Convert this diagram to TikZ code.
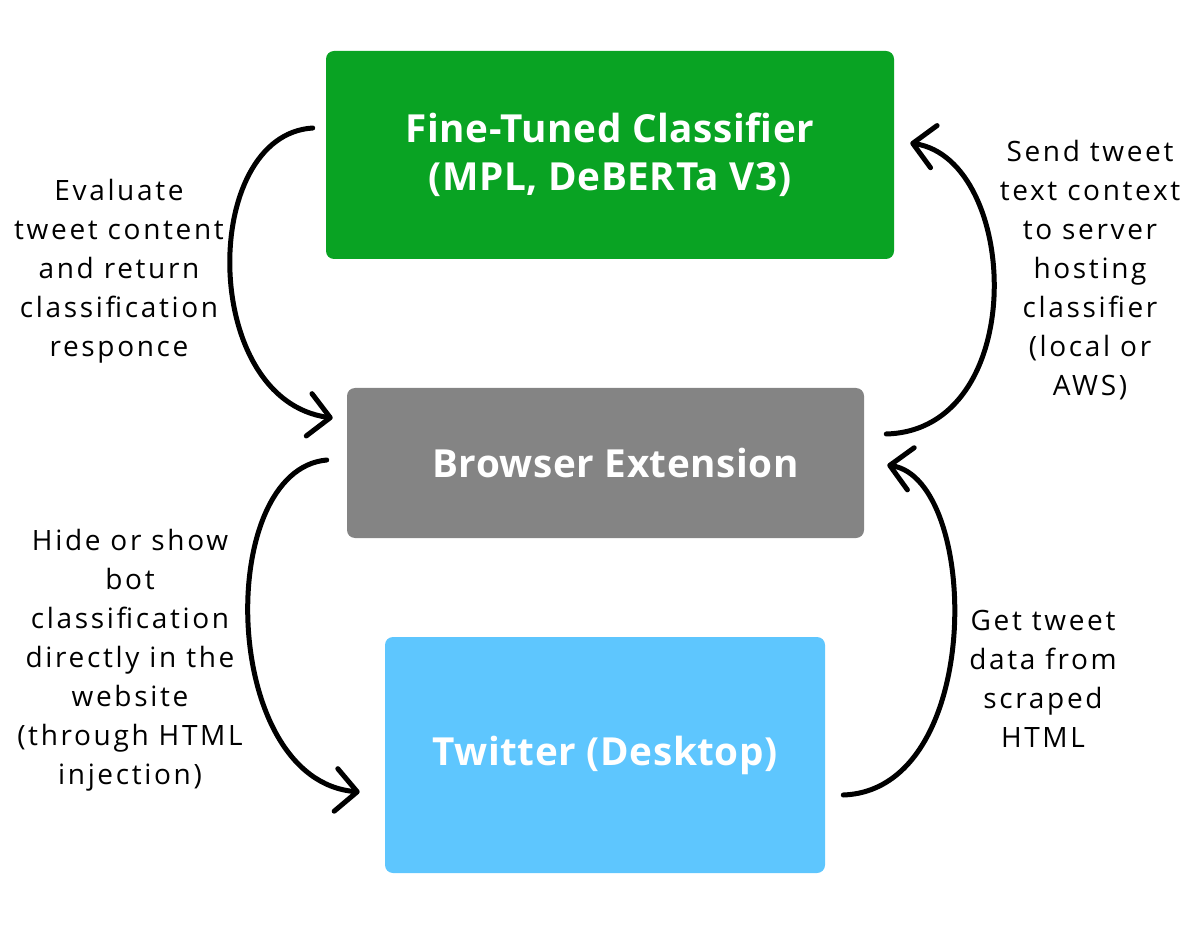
\documentclass[tikz,border=0pt]{standalone}
\usepackage{fontspec}
\setmainfont{Open Sans}
\newfontfamily\notefont{Open Sans}[LetterSpace=9.5]
\newfontfamily\blockfont{Open Sans}[LetterSpace=1.5]
\usetikzlibrary{arrows.meta,calc}
\definecolor{tunedgreen}{RGB}{9,163,35}
\definecolor{extgray}{RGB}{132,132,132}
\definecolor{twitblue}{RGB}{94,198,254}

\begin{document}
\begin{tikzpicture}[x=0.75pt,y=0.75pt,yscale=-1,xscale=1,
    block/.style={rounded corners=6pt, text=white, font=\blockfont\bfseries\fontsize{29}{36}\selectfont, align=center, inner sep=0pt},
    note/.style={align=center, font=\notefont\fontsize{21}{29.25}\selectfont, inner sep=0pt},
    flow/.style={line width=3.75pt, line cap=round, -{Straight Barb[round,length=16pt,width=32pt]}}]
\useasboundingbox (0,0) rectangle (1200,927);
% boxes
\node[block, fill=tunedgreen, minimum width=426pt, minimum height=156pt] (cls) at (610,155) {Fine-Tuned Classifier\\(MPL, DeBERTa V3)};
\node[block, fill=extgray, minimum width=387.75pt, minimum height=112.5pt] (ext) at (605.5,463) {\hspace*{15pt}Browser Extension};
\node[block, fill=twitblue, minimum width=330pt, minimum height=177pt] (twt) at (605,755) {Twitter (Desktop)};
% curved connectors
\draw[flow] ($(cls.west)+(-13,-27)$) .. controls +(-113,7) and +(-133,-18) .. ($(ext.west)+(-14,-45)$);
\draw[flow] ($(ext.east)+(22,-29)$) .. controls +(144,-4) and +(110,17) .. ($(cls.east)+(16,-12)$);
\draw[flow] ($(ext.west)+(-20,-3)$) .. controls +(-112,10) and +(-140,-12) .. ($(twt.west)+(-25,37)$);
\draw[flow] ($(twt.east)+(18,40)$) .. controls +(142,-5) and +(93,15) .. ($(ext.east)+(23,2)$);
% labels
\node[note] (evalnote) at (119,271) {Evaluate\\tweet content\\and return\\classification\\responce};
\node[note] (sendnote) at (1090,270) {Send tweet\\text context\\to server\\hosting\\classifier\\(local or\\AWS)};
\node[note] (hidenote) at (130,660) {Hide or show\\bot\\classification\\directly in the\\website\\(through HTML\\injection)};
\node[note] (getnote) at (1043,679) {Get tweet\\data from\\scraped\\HTML};
\end{tikzpicture}
\end{document}
